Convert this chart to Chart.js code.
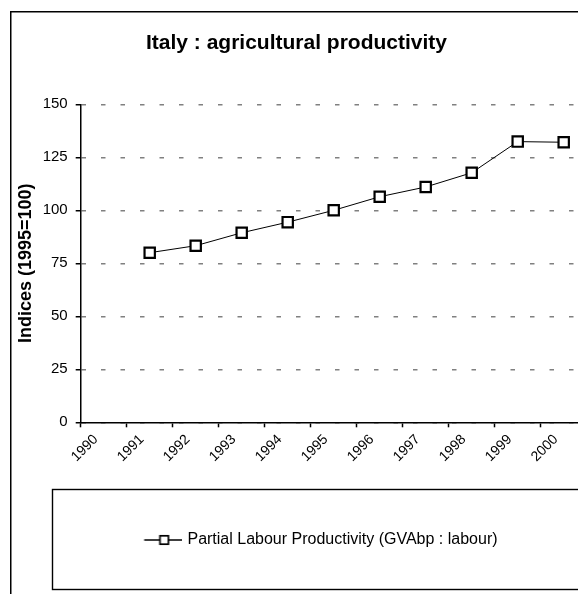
<!DOCTYPE html>
<html>
<head>
<meta charset="utf-8">
<title>Italy : agricultural productivity</title>
<script src="https://cdn.jsdelivr.net/npm/chart.js@4.4.1/dist/chart.umd.min.js"></script>
<style>
  html, body { margin: 0; padding: 0; background: #fff; overflow: hidden; }
  #wrap { width: 620px; height: 594px; }
</style>
</head>
<body>
<div id="wrap"><canvas id="chart" width="620" height="594"></canvas></div>
<script>
// Years on the category axis
const years = ['1990', '1991', '1992', '1993', '1994', '1995', '1996', '1997', '1998', '1999', '2000'];
// Partial labour productivity index (1995 = 100); no value for 1990
const labourProductivity = [null, 80.0, 83.3, 89.4, 94.4, 100.0, 106.4, 111.0, 117.7, 132.4, 132.1];
// Value axis
const yTicks = { min: 0, max: 150, step: 25 };
const seriesName = 'Partial Labour Productivity (GVAbp : labour)';
const chartTitle = 'Italy : agricultural productivity';
const yTitle = 'Indices (1995=100)';

const FONT = "'Liberation Sans', Arial, Helvetica, sans-serif";
Chart.defaults.font.family = FONT;
Chart.defaults.color = '#000';

// Legend glyph: a short line with a hollow square, offset to the right of its box
const glyph = document.createElement('canvas');
glyph.width = 90; glyph.height = 16;
(function () {
  const g = glyph.getContext('2d');
  g.strokeStyle = '#000';
  g.lineWidth = 1.3;
  g.beginPath(); g.moveTo(51.7, 8); g.lineTo(90, 8); g.stroke();
  g.fillStyle = '#fff';
  g.fillRect(67.5, 3.8, 8.4, 8.4);
  g.lineWidth = 1.7;
  g.strokeRect(67.5, 3.8, 8.4, 8.4);
})();

// Outer frame and legend frame
const framePlugin = {
  id: 'frames',
  beforeDraw(chart) {
    const ctx = chart.ctx;
    ctx.save();
    ctx.fillStyle = '#fff';
    ctx.fillRect(0, 0, chart.width, chart.height);
    ctx.strokeStyle = '#000';
    ctx.lineWidth = 1.5;
    ctx.strokeRect(10.75, 11.75, chart.width + 20, chart.height + 20);
    ctx.lineWidth = 1.4;
    ctx.strokeRect(52.5, 489.5, chart.width + 20, 100);
    ctx.restore();
  }
};

new Chart(document.getElementById('chart'), {
  type: 'line',
  data: {
    labels: years,
    datasets: [{
      label: seriesName,
      data: labourProductivity,
      borderColor: '#000',
      borderWidth: 1,
      tension: 0,
      spanGaps: false,
      pointStyle: 'rect',
      pointRadius: 7.3,
      pointHoverRadius: 7.3,
      pointBorderWidth: 2.2,
      pointBorderColor: '#000',
      pointBackgroundColor: '#fff'
    }]
  },
  options: {
    responsive: false,
    maintainAspectRatio: false,
    devicePixelRatio: 1,
    animation: false,
    events: [],
    layout: { padding: { left: 6.3, right: 33.3, top: 0, bottom: 36 } },
    plugins: {
      title: {
        display: true,
        text: chartTitle,
        color: '#000',
        font: { size: 21, weight: 'bold', family: FONT },
        padding: { top: 30.9, bottom: 48.2 }
      },
      legend: {
        display: true,
        position: 'bottom',
        align: 'center',
        labels: {
          color: '#000',
          font: { size: 16, family: FONT },
          padding: 10,
          usePointStyle: true,
          pointStyleWidth: 84,
          generateLabels(chart) {
            const items = Chart.defaults.plugins.legend.labels.generateLabels(chart);
            items.forEach(it => { it.pointStyle = glyph; });
            return items;
          }
        }
      },
      tooltip: { enabled: false }
    },
    scales: {
      x: {
        type: 'category',
        offset: true,
        grid: {
          offset: true,
          drawOnChartArea: false,
          drawTicks: true,
          tickLength: 5,
          tickColor: '#000',
          tickWidth: 1.5
        },
        border: { display: true, color: '#000', width: 1.5 },
        ticks: {
          color: '#000',
          font: { size: 14, family: FONT },
          maxRotation: 45,
          minRotation: 45,
          autoSkip: false,
          padding: 4,
          labelOffset: -8
        },
        afterFit(scale) { scale.height = 99.7; }
      },
      y: {
        min: yTicks.min,
        max: yTicks.max,
        grid: {
          color: '#808080',
          lineWidth: 1.5,
          drawTicks: true,
          tickLength: 5,
          tickColor: '#000',
          tickWidth: 1.5,
          tickBorderDash: []
        },
        border: { display: true, color: '#000', width: 1.5, dash: [4.5, 15], dashOffset: 0 },
        ticks: {
          stepSize: yTicks.step,
          color: '#000',
          font: { size: 15, family: FONT },
          padding: 8
        },
        title: {
          display: true,
          text: yTitle,
          color: '#000',
          font: { size: 18, weight: 'bold', family: FONT },
          padding: { top: 8.6, bottom: 0 }
        },
        afterFit(scale) { scale.width = 74.4; }
      }
    }
  },
  plugins: [framePlugin]
});
</script>
</body>
</html>
